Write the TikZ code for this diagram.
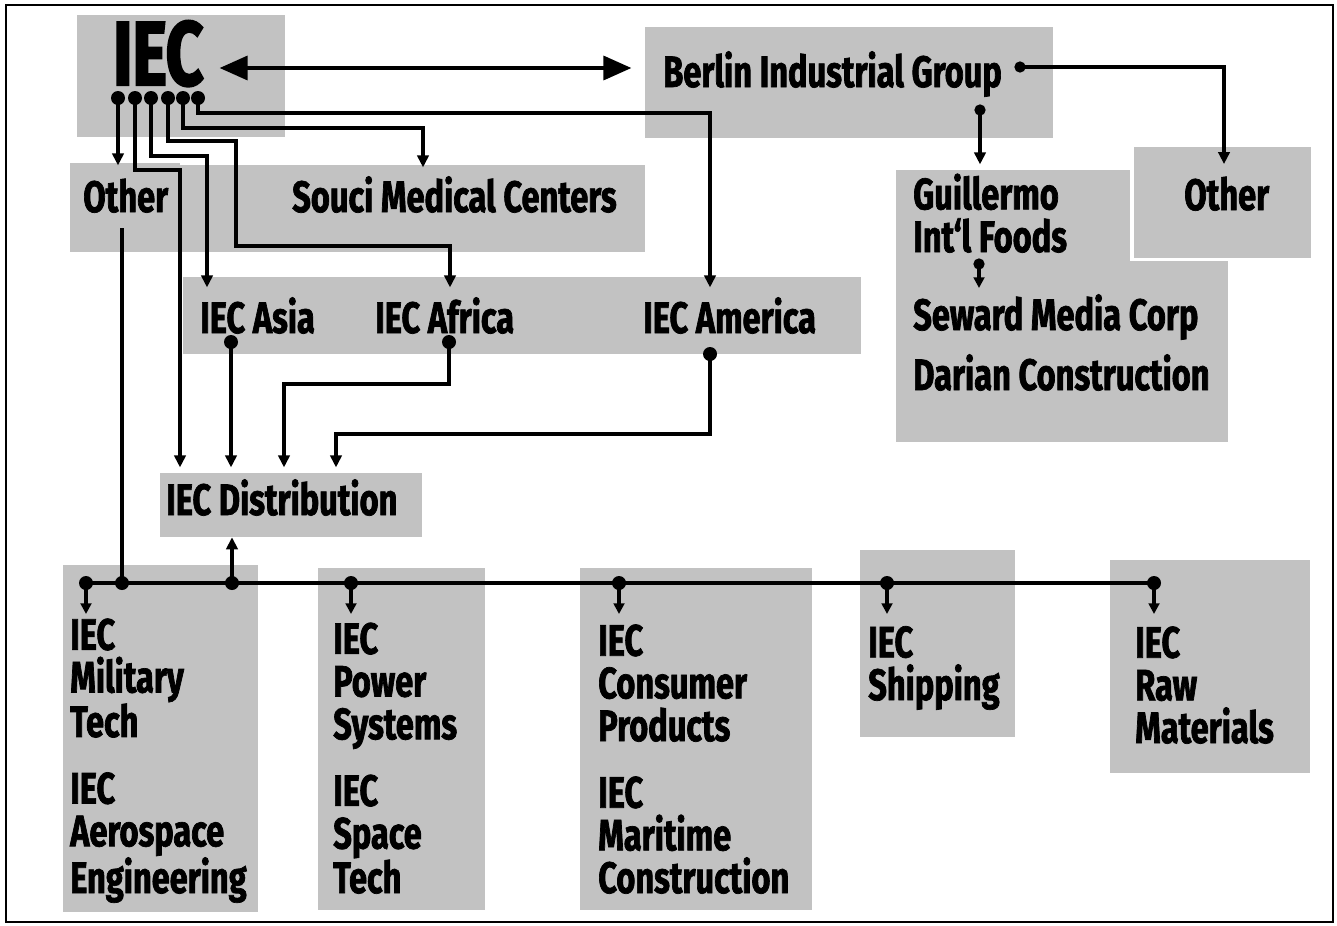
\documentclass[tikz,border=0pt]{standalone}
\usepackage{fontspec}
\newfontfamily\lab{Fira Sans}[FakeStretch=0.74,FakeBold=1.6]
\newfontfamily\labbig{Fira Sans}[FakeStretch=0.72,FakeBold=2.5]
\usetikzlibrary{arrows.meta,fit,calc}
\begin{document}
\begin{tikzpicture}[x=0.75pt,y=-0.75pt,
 gbox/.style={fill=black!24, inner sep=0pt, draw=none},
 lbl/.style={font=\lab\bfseries\fontsize{33}{32}\selectfont, inner sep=0pt, anchor=base west, align=left},
 conn/.style={line width=2.3pt, line join=miter},
 arr/.style={conn, -{Triangle[length=9pt,width=8.5pt]}},
 sarr/.style={conn, -{Triangle[length=8pt,width=8pt]}},
 bigarr/.style={line width=2.6pt, {Triangle[length=21pt,width=18pt]}-{Triangle[length=21pt,width=18pt]}},
 dot/.style={circle, fill=black, inner sep=0pt, minimum size=10.5pt},
 sdot/.style={circle, fill=black, inner sep=0pt, minimum size=8.5pt},
]
\useasboundingbox (0,0) rectangle (1337,925);
\draw[line width=2.2pt] (6,5) rectangle (1333,922);

% shaded boxes
\node[gbox, fit={(77,15) (285,137)}] (iecbox) {};
\node[gbox, fit={(645,27) (1053,138)}] (berlinbox) {};
\node[gbox, fit={(70,163) (180,252)}] (otherLbox) {};
\node[gbox, fit={(180,165) (645,252)}] (soucibox) {};
\node[gbox, fit={(183,277) (861,354)}] (band) {};
\node[gbox, fit={(160,473) (422,537)}] (distbox) {};
\node[gbox, fit={(1134,147) (1311,258)}] (otherRbox) {};
\node[gbox, fit={(896,170) (1130,264)}] (guilbox) {};
\node[gbox, fit={(896,261) (1228,442)}] (sewardbox) {};
\node[gbox, fit={(63,565) (258,912)}] (boxA) {};
\node[gbox, fit={(318,568) (485,910)}] (boxB) {};
\node[gbox, fit={(580,568) (812,910)}] (boxC) {};
\node[gbox, fit={(860,550) (1015,737)}] (boxD) {};
\node[gbox, fit={(1110,560) (1310,773)}] (boxE) {};

% texts (multi-line nodes: base = last line)
\node[lbl, font=\labbig\bfseries\fontsize{68}{68}\selectfont] (iec) at (113,85) {IEC};
\node[lbl] (berlin) at (663,87) {Berlin Industrial Group};
\node[lbl] (otherL) at (83,212) {Other};
\node[lbl] (souci) at (292,212) {Souci Medical Centers};
\node[lbl] (asia) at (200,333) {IEC Asia};
\node[lbl] (africa) at (375,333) {IEC Africa};
\node[lbl] (america) at (643,333) {IEC America};
\node[lbl] (dist) at (166,515) {IEC Distribution};
\node[lbl] (otherR) at (1184,210) {Other};
\node[lbl] (guil) at (913,252) {Guillermo\\Int‘l Foods};
\node[lbl] (seward) at (913,330) {Seward Media Corp};
\node[lbl] (darian) at (913,390) {Darian Construction};
\node[lbl] (tA) at (70,893) {IEC\\Military\\Tech\\[18pt]IEC\\Aerospace\\Engineering};
\node[lbl] (tB) at (333,893) {IEC\\Power\\Systems\\[18pt]IEC\\Space\\Tech};
\node[lbl] (tC) at (598,893) {IEC\\Consumer\\Products\\[18pt]IEC\\Maritime\\Construction};
\node[lbl] (tD) at (868,700) {IEC\\Shipping};
\node[lbl] (tE) at (1135,743) {IEC\\Raw\\Materials};

% IEC dots and connectors
\foreach \i/\x in {1/118,2/135,3/151,4/168,5/183,6/198} \node[dot] (i\i) at (\x,98) {};
\draw[bigarr, shorten <=12pt, shorten >=10pt] (iec.east |- 0,68) -- (berlinbox.west |- 0,68);
\draw[arr, shorten >=-2pt] (i1.center) -- (i1.center |- otherLbox.north);
\draw[arr, shorten >=4pt] (i2.center) |- (180,170) -- (180,170 |- distbox.north);
\draw[arr, shorten >=-8pt] (i3.center) |- (207,156) -- (207,156 |- band.north);
\draw[arr, shorten >=-8pt] (i4.center) |- (236,141) |- (450,246) -- (450,246 |- band.north);
\draw[arr, shorten >=-2pt] (i5.center) |- (423,128) -- (423,128 |- soucibox.north);
\draw[arr, shorten >=-8pt] (i6.center) |- (710,113) -- (710,113 |- band.north);

% Berlin
\node[sdot] (b1) at (1020,67) {};
\node[sdot] (b2) at (980,110) {};
\draw[arr, shorten >=-13pt] (b1.center) -| (1224,0 |- otherRbox.north);
\draw[arr, shorten >=4pt] (b2.center) -- (b2.center |- guilbox.north);
\node[sdot] (g1) at (979,264) {};
\draw[sarr] (g1.center) -- ++(0,24);

% regional dots
\node[dot] (da) at (231,342) {};
\node[dot] (df) at (449,342) {};
\node[dot] (dm) at (710,354) {};
\draw[arr, shorten >=4pt] (da.center) -- (da.center |- distbox.north);
\draw[arr, shorten >=4pt] (df.center) |- (284,384) -- (284,384 |- distbox.north);
\draw[arr, shorten >=4pt] (dm.center) |- (336,434) -- (336,434 |- distbox.north);

% bus
\node[dot] (bA) at (86,583) {};
\node[dot] (bo) at (122,583) {};
\node[dot] (bd) at (232,583) {};
\node[dot] (bB) at (351,583) {};
\node[dot] (bC) at (619,583) {};
\node[dot] (bD) at (887,583) {};
\node[dot] (bE) at (1154,583) {};
\draw[conn] (bA.center) -- (bE.center);
\draw[conn, shorten >=-18pt] (bo.center) -- (bo.center |- otherLbox.south);
\draw[arr] (bd.center) -- (bd.center |- distbox.south);
\foreach \n in {bA,bB,bC,bD,bE} \draw[sarr] (\n.center) -- ++(0,31);
\end{tikzpicture}
\end{document}
